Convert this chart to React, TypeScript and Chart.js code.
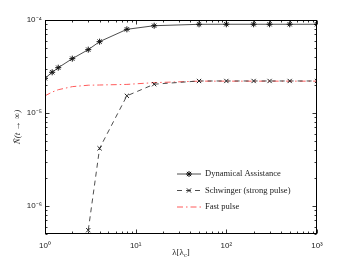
import React, { useEffect, useRef } from "react";
import { Chart, registerables } from "chart.js";

Chart.register(...registerables);

// ---- data ----
const lambdaDyn = [1, 1.2, 1.4, 2, 3, 4, 8, 16, 50, 100, 200, 300, 500, 1000];
const dynamical = [2.36e-5, 2.74e-5, 3.07e-5, 3.84e-5, 4.8e-5, 5.85e-5, 7.94e-5, 8.68e-5, 8.99e-5, 9.0e-5, 9.0e-5, 9.0e-5, 9.0e-5, 9.0e-5];

const lambdaSch = [3, 4, 8, 16, 50, 100, 200, 300, 500, 1000];
const schwinger = [5.5e-7, 4.17e-6, 1.53e-5, 2.04e-5, 2.21e-5, 2.21e-5, 2.21e-5, 2.21e-5, 2.21e-5, 2.21e-5];

const lambdaFast = [1, 1.2, 1.4, 2, 3, 4, 8, 16, 50, 100, 200, 300, 500, 1000];
const fastPulse = [1.53e-5, 1.68e-5, 1.78e-5, 1.92e-5, 1.99e-5, 2.0e-5, 2.03e-5, 2.12e-5, 2.2e-5, 2.2e-5, 2.2e-5, 2.2e-5, 2.2e-5, 2.2e-5];

const seriesNames = ["Dynamical Assistance", "Schwinger (strong pulse)", "Fast pulse"];

const xTicks = [1, 10, 100, 1000];
const xTickLabels = ["10⁰", "10¹", "10²", "10³"];
const yTicks = [1e-6, 1e-5, 1e-4];
const yTickLabels = ["10⁻⁶", "10⁻⁵", "10⁻⁴"];
const xMin = 1, xMax = 1000, yMin = 5e-7, yMax = 1e-4;

const toPoints = (xs: number[], ys: number[]) => xs.map((x, i) => ({ x, y: ys[i] }));

function drawMarker(ctx: CanvasRenderingContext2D, style: string, x: number, y: number, r: number) {
  ctx.beginPath();
  const d = r * Math.SQRT1_2;
  if (style === "star") {
    ctx.moveTo(x - r, y); ctx.lineTo(x + r, y);
    ctx.moveTo(x, y - r); ctx.lineTo(x, y + r);
  }
  ctx.moveTo(x - d, y - d); ctx.lineTo(x + d, y + d);
  ctx.moveTo(x - d, y + d); ctx.lineTo(x + d, y - d);
  ctx.stroke();
}

const decorPlugin = {
  id: "decor",
  afterDatasetsDraw(chart: any) {
    const { ctx, chartArea: a, scales } = chart;
    const xs = scales.x, ys = scales.y;
    ctx.save();
    ctx.strokeStyle = "#000";
    ctx.lineWidth = 1;
    ctx.setLineDash([]);
    const L = Math.round(a.left) + 0.5, R = Math.round(a.right) - 0.5;
    const T = Math.round(a.top) + 0.5, B = Math.round(a.bottom) - 0.5;
    ctx.strokeRect(L, T, R - L, B - T);
    ctx.lineWidth = 0.8;
    // x ticks
    for (let d = 0; d <= 3; d++) {
      for (let m = 1; m <= 9; m++) {
        const v = m * Math.pow(10, d);
        if (v < xMin || v > xMax) continue;
        const px = Math.round(xs.getPixelForValue(v)) + 0.5;
        const len = m === 1 ? 4 : 2;
        ctx.beginPath();
        ctx.moveTo(px, B); ctx.lineTo(px, B - len);
        ctx.moveTo(px, T); ctx.lineTo(px, T + len);
        ctx.stroke();
      }
    }
    // y ticks
    for (let d = -7; d <= -4; d++) {
      for (let m = 1; m <= 9; m++) {
        const v = m * Math.pow(10, d);
        if (v < yMin * 0.999 || v > yMax * 1.001) continue;
        const py = Math.round(ys.getPixelForValue(v)) + 0.5;
        const len = m === 1 ? 4 : 2;
        ctx.beginPath();
        ctx.moveTo(L, py); ctx.lineTo(L + len, py);
        ctx.moveTo(R, py); ctx.lineTo(R - len, py);
        ctx.stroke();
      }
    }

    // legend
    const rows = [174, 190.5, 207];
    chart.data.datasets.forEach((ds: any, i: number) => {
      const y = rows[i];
      ctx.strokeStyle = ds.borderColor;
      ctx.lineWidth = ds.borderWidth;
      ctx.setLineDash(ds.borderDash || []);
      ctx.beginPath();
      ctx.moveTo(177, y); ctx.lineTo(201, y);
      ctx.stroke();
      ctx.setLineDash([]);
      if (ds.pointRadius > 0) {
        ctx.strokeStyle = ds.pointBorderColor;
        ctx.lineWidth = 1;
        drawMarker(ctx, ds.pointStyle, 189, y, ds.pointRadius);
      }
      ctx.fillStyle = "#222";
      ctx.font = "8.5px 'Liberation Serif'";
      ctx.textBaseline = "middle";
      ctx.textAlign = "left";
      ctx.fillText(ds.label, 205, y);
    });

    // x title: λ[λc]
    ctx.fillStyle = "#222";
    ctx.textBaseline = "alphabetic";
    const p1 = "λ[λ", p2 = "c", p3 = "]";
    ctx.font = "9px 'Liberation Serif'";
    const w1 = ctx.measureText(p1).width;
    const w3 = ctx.measureText(p3).width;
    ctx.font = "6.5px 'Liberation Serif'";
    const w2 = ctx.measureText(p2).width;
    const total = w1 + w2 + w3;
    const cx = (a.left + a.right) / 2;
    const sx = cx - total / 2;
    const by = 255;
    ctx.textAlign = "left";
    ctx.font = "9px 'Liberation Serif'";
    ctx.fillText(p1, sx, by);
    ctx.font = "6.5px 'Liberation Serif'";
    ctx.fillText(p2, sx + w1, by + 2);
    ctx.font = "9px 'Liberation Serif'";
    ctx.fillText(p3, sx + w1 + w2, by);

    // y title
    ctx.translate(18, (a.top + a.bottom) / 2);
    ctx.rotate(-Math.PI / 2);
    ctx.textAlign = "center";
    ctx.textBaseline = "middle";
    ctx.font = "italic 9px 'Liberation Serif'";
    ctx.fillText("Ñ(t → ∞)", 0, 0);
    ctx.restore();
  },
};

export default function App() {
  const ref = useRef<HTMLCanvasElement | null>(null);
  useEffect(() => {
    if (!ref.current) return;
    const chart = new Chart(ref.current, {
      type: "line",
      data: {
        datasets: [
          {
            label: seriesNames[0],
            data: toPoints(lambdaDyn, dynamical),
            borderColor: "#3a3a3a",
            borderWidth: 0.9,
            pointStyle: "star",
            pointRadius: 3,
            pointBorderColor: "#111",
            pointBackgroundColor: "#111",
            pointBorderWidth: 1,
            fill: false,
          },
          {
            label: seriesNames[1],
            data: toPoints(lambdaSch, schwinger),
            borderColor: "#3a3a3a",
            borderWidth: 0.9,
            borderDash: [5, 4],
            pointStyle: "crossRot",
            pointRadius: 3,
            pointBorderColor: "#222",
            pointBorderWidth: 1,
            fill: false,
          },
          {
            label: seriesNames[2],
            data: toPoints(lambdaFast, fastPulse),
            borderColor: "#ff5a5a",
            borderWidth: 1,
            borderDash: [6, 3, 1.5, 3],
            pointRadius: 0,
            fill: false,
          },
        ] as any,
      },
      options: {
        animation: false,
        responsive: false,
        maintainAspectRatio: false,
        layout: { padding: { left: 0, top: 20, right: 33, bottom: 0 } },
        plugins: { legend: { display: false }, tooltip: { enabled: false }, title: { display: false } },
        elements: { line: { tension: 0 } },
        scales: {
          x: {
            type: "logarithmic",
            min: xMin,
            max: xMax,
            grid: { display: false, drawTicks: false },
            border: { display: false },
            afterBuildTicks: (s: any) => { s.ticks = xTicks.map((v) => ({ value: v })); },
            afterFit: (s: any) => { s.height = 30; },
            ticks: {
              autoSkip: false,
              maxRotation: 0,
              padding: 7,
              color: "#222",
              font: { family: "'Liberation Sans'", size: 8 },
              callback: (v: any) => { const i = xTicks.indexOf(Number(v)); return i >= 0 ? xTickLabels[i] : ""; },
            },
          },
          y: {
            type: "logarithmic",
            min: yMin,
            max: yMax,
            grid: { display: false, drawTicks: false },
            border: { display: false },
            afterBuildTicks: (s: any) => { s.ticks = yTicks.map((v) => ({ value: v })); },
            afterFit: (s: any) => { s.width = 45; },
            ticks: {
              autoSkip: false,
              padding: 3,
              color: "#222",
              font: { family: "'Liberation Sans'", size: 8 },
              callback: (v: any) => {
                const i = yTicks.findIndex((t) => Math.abs(t - Number(v)) / t < 1e-6);
                return i >= 0 ? yTickLabels[i] : "";
              },
            },
          },
        },
      } as any,
      plugins: [decorPlugin],
    });
    return () => chart.destroy();
  }, []);
  return (
    <div style={{ position: "absolute", left: 0, top: 0, width: 350, height: 264, background: "#fff" }}>
      <canvas ref={ref} width={350} height={264} style={{ width: 350, height: 264, display: "block" }} />
    </div>
  );
}
